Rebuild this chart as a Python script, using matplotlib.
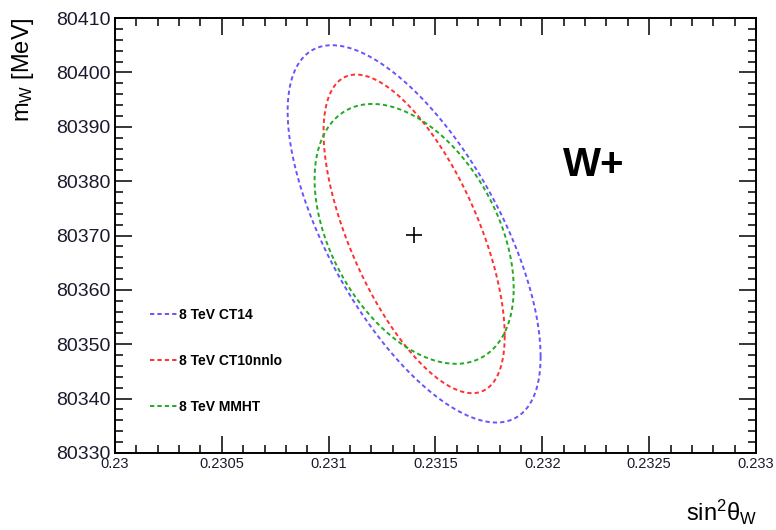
#!/usr/bin/env python3

import numpy as np
import matplotlib
matplotlib.use('Agg')
import matplotlib.pyplot as plt
from matplotlib.ticker import MultipleLocator

plt.rcParams['font.family'] = ['Liberation Sans', 'DejaVu Sans']
plt.rcParams['mathtext.fontset'] = 'custom'
plt.rcParams['mathtext.rm'] = 'Liberation Sans'
plt.rcParams['mathtext.it'] = 'Liberation Sans'

# fit result (central value) and 68% contours per PDF set
labels = ['8 TeV CT14', '8 TeV CT10nnlo', '8 TeV MMHT']
colors = ['#6655ff', '#ff3030', '#22aa22']
center_x = [0.23140, 0.23140, 0.23140]
center_y = [80370.3, 80370.3, 80370.3]
sigma_x = [0.000592, 0.000424, 0.000466]
sigma_y = [34.7, 29.3, 23.9]
rho = [-0.65, -0.64, -0.42]

best_x = 0.23140
best_y = 80370.1


def main():
    fig = plt.figure(figsize=(7.76, 5.30), dpi=100)
    ax = fig.add_axes([0.1482, 0.1453, 0.8260, 0.8207])

    t = np.linspace(0, 2 * np.pi, 400)
    for lab, c, cx, cy, sx, sy, r in zip(labels, colors, center_x, center_y,
                                         sigma_x, sigma_y, rho):
        x = cx + sx * np.cos(t)
        y = cy + sy * (r * np.cos(t) + np.sqrt(1 - r**2) * np.sin(t))
        ax.plot(x, y, color=c, lw=1.4, ls=(0, (2.2, 1.6)), label=lab)

    ax.plot([best_x], [best_y], marker='+', color='black', ms=11, mew=1.2,
            ls='none')

    ax.set_xlim(0.23, 0.233)
    ax.set_ylim(80330, 80410)
    ax.xaxis.set_minor_locator(MultipleLocator(0.0001))
    ax.yaxis.set_major_locator(MultipleLocator(10))
    ax.yaxis.set_minor_locator(MultipleLocator(2))
    ax.set_xticks(np.arange(0.23, 0.23301, 0.0005))
    ax.set_xticklabels(['0.23', '0.2305', '0.231', '0.2315', '0.232',
                        '0.2325', '0.233'])

    ax.tick_params(which='both', direction='in', top=True, right=True,
                   width=1.1, color='black')
    ax.tick_params(which='major', length=12)
    ax.tick_params(which='minor', length=6)
    ax.tick_params(axis='y', labelsize=14, pad=3.5, labelcolor='#1a1a2e')
    ax.tick_params(axis='x', labelsize=10.5, pad=3, labelcolor='#1a1a2e')
    for s in ax.spines.values():
        s.set_linewidth(1.4)

    ax.text(0.7475, 0.662, 'W+', transform=ax.transAxes, fontsize=29,
            fontweight='bold', ha='center', va='center')

    fig.text(0.029, 0.968, r'm$_{W}$ [MeV]', rotation=90, ha='center',
             va='top', fontsize=17)
    fig.text(0.976, 0.033, r'sin$^{2}\theta_{W}$', ha='right', va='center',
             fontsize=17)

    ax.legend(loc='center left', bbox_to_anchor=(0.054, 0.212),
              frameon=False, labelspacing=2.3, handlelength=2.0,
              handletextpad=0.1, borderpad=0, borderaxespad=0,
              prop={'weight': 'bold', 'size': 10})

    fig.savefig('out.png', dpi=100)


if __name__ == "__main__":
    main()
